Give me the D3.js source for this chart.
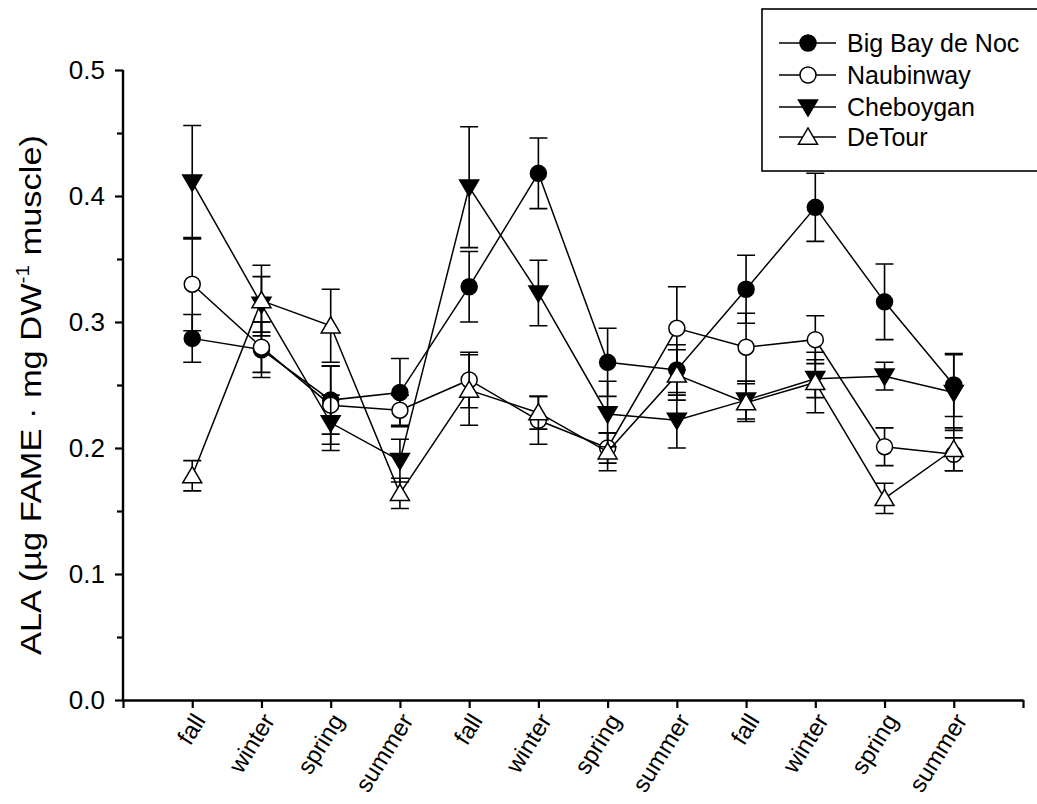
<!DOCTYPE html>
<html>
<head>
<meta charset="utf-8">
<script src="https://cdn.jsdelivr.net/npm/d3@7"></script>
<style>
  html, body { margin: 0; padding: 0; background: #fff; }
  svg { display: block; font-family: "Liberation Sans", Arial, sans-serif; }
</style>
</head>
<body>
<svg id="chart" width="1037" height="804"></svg>
<script>
// ---- data ----
const seasons = ["fall","winter","spring","summer","fall","winter","spring","summer","fall","winter","spring","summer"];
const seriesNames = ["Big Bay de Noc","Naubinway","Cheboygan","DeTour"];
const bigBay    = [0.287,0.278,0.238,0.244,0.328,0.418,0.268,0.262,0.326,0.391,0.316,0.250];
const bigBayErr = [0.019,0.022,0.027,0.027,0.028,0.028,0.027,0.020,0.027,0.027,0.030,0.025];
const naub      = [0.330,0.280,0.234,0.230,0.254,0.222,0.200,0.295,0.280,0.286,0.201,0.195];
const naubErr   = [0.037,0.020,0.031,0.012,0.022,0.019,0.012,0.033,0.027,0.019,0.015,0.013];
const cheb      = [0.411,0.314,0.220,0.190,0.407,0.323,0.227,0.222,0.238,0.255,0.257,0.244];
const chebErr   = [0.045,0.022,0.022,0.017,0.048,0.026,0.026,0.022,0.015,0.015,0.011,0.030];
const detour    = [0.178,0.317,0.297,0.164,0.246,0.228,0.197,0.258,0.236,0.252,0.160,0.199];
const detourErr = [0.012,0.028,0.029,0.012,0.028,0.013,0.015,0.020,0.015,0.024,0.012,0.017];
const yTicks = [0.0,0.1,0.2,0.3,0.4,0.5];
const yMinorTicks = [0.05,0.15,0.25,0.35,0.45];
const yLabel = "ALA (µg FAME · mg DW";
const yLabelSup = "-1";
const yLabelEnd = " muscle)";

const series = [
  {name: seriesNames[0], values: bigBay, err: bigBayErr, shape: "circle", fill: "#000"},
  {name: seriesNames[1], values: naub,   err: naubErr,   shape: "circle", fill: "#fff"},
  {name: seriesNames[2], values: cheb,   err: chebErr,   shape: "down",   fill: "#000"},
  {name: seriesNames[3], values: detour, err: detourErr, shape: "up",     fill: "#fff"}
];

// ---- layout ----
const svg = d3.select("#chart");
const x = d3.scaleLinear().domain([0, seasons.length + 1]).range([123, 1023]);
const y = d3.scaleLinear().domain([0, 0.5]).range([700, 70]);

// axes
const yAxis = d3.axisLeft(y).tickValues(yTicks).tickFormat(d3.format(".1f")).tickSize(8).tickPadding(10);
const gy = svg.append("g").attr("transform", `translate(${x(0)},0)`).call(yAxis);
gy.select(".domain").attr("stroke-width", 2.4).attr("d", `M0,${y(0) + 1}V${y(0.5)}`);
gy.selectAll(".tick line").attr("stroke-width", 2.2);
gy.selectAll(".tick text").attr("font-size", 26).attr("font-family", "Liberation Sans, Arial, sans-serif").attr("fill", "#000");
const yMinor = d3.axisLeft(y).tickValues(yMinorTicks).tickFormat("").tickSize(6);
const gym = svg.append("g").attr("transform", `translate(${x(0)},0)`).call(yMinor);
gym.select(".domain").remove();
gym.selectAll(".tick line").attr("stroke-width", 2.2);

const xTickVals = d3.range(0, seasons.length + 2);
const xAxis = d3.axisBottom(x).tickValues(xTickVals).tickFormat("").tickSize(8).tickSizeOuter(0);
const gx = svg.append("g").attr("transform", `translate(0,${y(0)})`).call(xAxis);
gx.select(".domain").attr("stroke-width", 2.4);
gx.selectAll(".tick line").attr("stroke-width", 2.2);

// x labels rotated
svg.append("g").selectAll("text").data(seasons).join("text")
  .attr("transform", (d, i) => `translate(${x(i + 1) + 7},${y(0) + 16}) rotate(-58)`)
  .attr("text-anchor", "end")
  .attr("dominant-baseline", "central")
  .attr("font-size", 24)
  .text(d => d);

// y title
const yt = svg.append("text")
  .attr("transform", `translate(41,395) rotate(-90)`)
  .attr("text-anchor", "middle")
  .attr("font-size", 30)
  .attr("textLength", 520)
  .attr("lengthAdjust", "spacingAndGlyphs");
yt.append("tspan").text(yLabel);
yt.append("tspan").attr("dy", -12).attr("font-size", 18).text(yLabelSup);
yt.append("tspan").attr("dy", 12).text(yLabelEnd);

// symbols
const R = 8;
function drawSymbol(g, shape, fill, cx, cy) {
  if (shape === "circle") {
    g.append("circle").attr("cx", cx).attr("cy", cy).attr("r", R)
      .attr("fill", fill).attr("stroke", "#000").attr("stroke-width", 1.5);
  } else {
    const s = 9.5;
    const pts = shape === "down"
      ? [[cx - s, cy - s * 0.75], [cx + s, cy - s * 0.75], [cx, cy + s * 0.95]]
      : [[cx - s, cy + s * 0.75], [cx + s, cy + s * 0.75], [cx, cy - s * 0.95]];
    g.append("path").attr("d", "M" + pts.map(p => p.join(",")).join("L") + "Z")
      .attr("fill", fill).attr("stroke", "#000").attr("stroke-width", 1.5);
  }
}

const line = d3.line().x((d, i) => x(i + 1)).y(d => y(d));
const cap = 9;
series.forEach(s => {
  const g = svg.append("g");
  // error bars
  s.values.forEach((v, i) => {
    const cx = x(i + 1);
    const hi = y(v + s.err[i]), lo = y(v - s.err[i]);
    g.append("path")
      .attr("d", `M${cx},${hi}V${lo}M${cx - cap},${hi}H${cx + cap}M${cx - cap},${lo}H${cx + cap}`)
      .attr("stroke", "#000").attr("stroke-width", 1.6).attr("fill", "none");
  });
  g.append("path").datum(s.values).attr("d", line)
    .attr("fill", "none").attr("stroke", "#000").attr("stroke-width", 1.5);
  s.values.forEach((v, i) => drawSymbol(g, s.shape, s.fill, x(i + 1), y(v)));
});

// legend
const lg = svg.append("g");
lg.append("rect").attr("x", 762).attr("y", 9).attr("width", 300).attr("height", 162)
  .attr("fill", "#fff").attr("stroke", "#000").attr("stroke-width", 1.6);
const legY = [43, 75, 107, 137];
series.forEach((s, k) => {
  const yy = legY[k];
  lg.append("line").attr("x1", 779).attr("x2", 836).attr("y1", yy).attr("y2", yy)
    .attr("stroke", "#000").attr("stroke-width", 1.5);
  drawSymbol(lg, s.shape, s.fill, 808, yy);
  lg.append("text").attr("x", 847).attr("y", yy).attr("dominant-baseline", "central")
    .attr("font-size", 25).text(s.name);
});
</script>
</body>
</html>
